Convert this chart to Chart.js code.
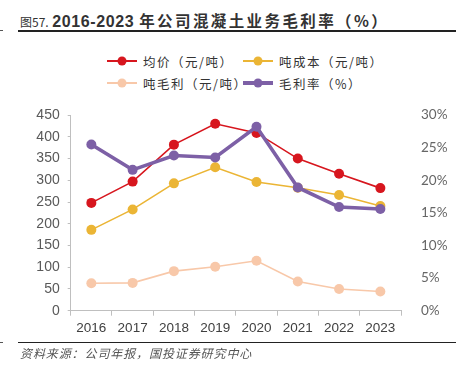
<!DOCTYPE html>
<html>
<head>
<meta charset="utf-8">
<script src="https://cdn.jsdelivr.net/npm/chart.js@4"></script>
<style>
  body { margin: 0; background: #fff; width: 456px; height: 384px; overflow: hidden; position: relative; font-family: "Noto Sans CJK SC", sans-serif; }
  .title { position: absolute; left: 20px; top: 8px; white-space: nowrap; color: #333; }
  .title .fig { font-size: 12px; }
  .title .main { font-size: 16px; font-weight: bold; font-family: "Liberation Sans", "Noto Sans CJK SC", sans-serif; letter-spacing: 0.6px; }
  .title .main .cn { font-family: "Noto Sans CJK SC", sans-serif; font-size: 15.5px; letter-spacing: 2.4px; }
  .rule { position: absolute; left: 18px; right: 0; height: 1.5px; background: #222; }
  .edge { position: absolute; left: 0; width: 3px; height: 1px; background: #555; }
  .legend { position: absolute; font-size: 12.5px; color: #333; letter-spacing: 1.5px; white-space: nowrap; }
  .item { position: absolute; display: flex; align-items: center; height: 16px; }
  .swatch { position: relative; width: 30px; margin-right: 6px; }
  .swatch .ln { position: absolute; left: 0; right: 0; top: 50%; transform: translateY(-50%); }
  .swatch .dot { position: absolute; left: 50%; top: 50%; width: 9px; height: 9px; border-radius: 50%; transform: translate(-50%, -50%); }
  .source { position: absolute; left: 20px; top: 344px; font-size: 12px; font-style: italic; color: #555; letter-spacing: 0.9px; }
  #wrap { position: absolute; left: 0; top: 95px; width: 456px; height: 250px; }
</style>
</head>
<body>
<div class="title"><span class="fig">图57.</span> <span class="main">2016-2023 <span class="cn">年公司混凝土业务毛利率（%）</span></span></div>
<div class="rule" style="top:30px"></div>
<div class="edge" style="top:30px"></div>
<div id="legend"></div>
<div id="wrap"><canvas id="chart"></canvas></div>
<div class="rule" style="top:342px;height:1.3px"></div>
<div class="edge" style="top:342px"></div>
<div class="source">资料来源：公司年报，国投证券研究中心</div>
<script>
const years = ['2016', '2017', '2018', '2019', '2020', '2021', '2022', '2023'];
const avgPrice = [248, 297, 382, 430, 409, 350, 315, 282];
const costPerTon = [186, 233, 293, 330, 296, 283, 266, 241];
const profitPerTon = [63, 64, 91, 101, 115, 67, 50, 44];
const grossMargin = [25.5, 21.6, 23.8, 23.5, 28.2, 18.9, 15.9, 15.6];

const leftTicks = [0, 450, 50];
const rightTicks = [0, 30, 5];

const series = [
  { label: '均价（元/吨）', data: avgPrice, color: '#d7161e', width: 1.6, axis: 'y', order: 1 },
  { label: '吨成本（元/吨）', data: costPerTon, color: '#ebb535', width: 1.6, axis: 'y', order: 2 },
  { label: '吨毛利（元/吨）', data: profitPerTon, color: '#f8c8a9', width: 1.6, axis: 'y', order: 3 },
  { label: '毛利率（%）', data: grossMargin, color: '#7d60a6', width: 3.6, axis: 'y1', order: 0 }
];

// legend, two rows of two
const legendPos = [[107, 53], [243, 53], [107, 75], [243, 75]];
const legend = document.getElementById('legend');
series.forEach((s, i) => {
  const el = document.createElement('div');
  el.className = 'legend item';
  el.style.left = legendPos[i][0] + 'px';
  el.style.top = legendPos[i][1] + 'px';
  el.innerHTML = `<span class="swatch" style="height:16px">
      <span class="ln" style="height:${s.width > 2 ? 4 : 2}px;background:${s.color}"></span>
      <span class="dot" style="background:${s.color}"></span></span><span>${s.label}</span>`;
  legend.appendChild(el);
});

const axisGrey = '#bfbfbf';

new Chart(document.getElementById('chart'), {
  type: 'line',
  data: {
    labels: years,
    datasets: series.map(s => ({
      label: s.label,
      data: s.data,
      yAxisID: s.axis,
      order: s.order,
      borderColor: s.color,
      backgroundColor: s.color,
      borderWidth: s.width,
      pointRadius: 5,
      pointHoverRadius: 5,
      pointBorderWidth: 0,
      tension: 0
    }))
  },
  options: {
    responsive: true,
    maintainAspectRatio: false,
    animation: false,
    layout: { padding: { top: 15.7, left: 0, right: 0, bottom: 0 } },
    plugins: { legend: { display: false }, tooltip: { enabled: false } },
    scales: {
      x: {
        offset: true,
        afterFit: scale => { scale.height = 34.3; },
        grid: { offset: true, drawOnChartArea: false, drawTicks: true, tickLength: 5, color: axisGrey },
        border: { color: axisGrey, width: 1 },
        ticks: { color: '#404040', padding: 4, font: { family: 'Liberation Sans', size: 13.5 } }
      },
      y: {
        position: 'left',
        min: leftTicks[0], max: leftTicks[1],
        afterFit: scale => { scale.width = 70.7; },
        grid: { drawOnChartArea: false, drawTicks: true, tickLength: 3, color: axisGrey },
        border: { color: axisGrey, width: 1 },
        ticks: { stepSize: leftTicks[2], color: '#595959', padding: 8, font: { family: 'Liberation Sans', size: 14 } }
      },
      y1: {
        position: 'right',
        min: rightTicks[0], max: rightTicks[1],
        afterFit: scale => { scale.width = 55; },
        grid: { display: false },
        border: { display: false },
        ticks: { stepSize: rightTicks[2], color: '#666', padding: 12, callback: v => v + '%', font: { family: 'Lato', size: 13.5 } }
      }
    }
  }
});
</script>
</body>
</html>
